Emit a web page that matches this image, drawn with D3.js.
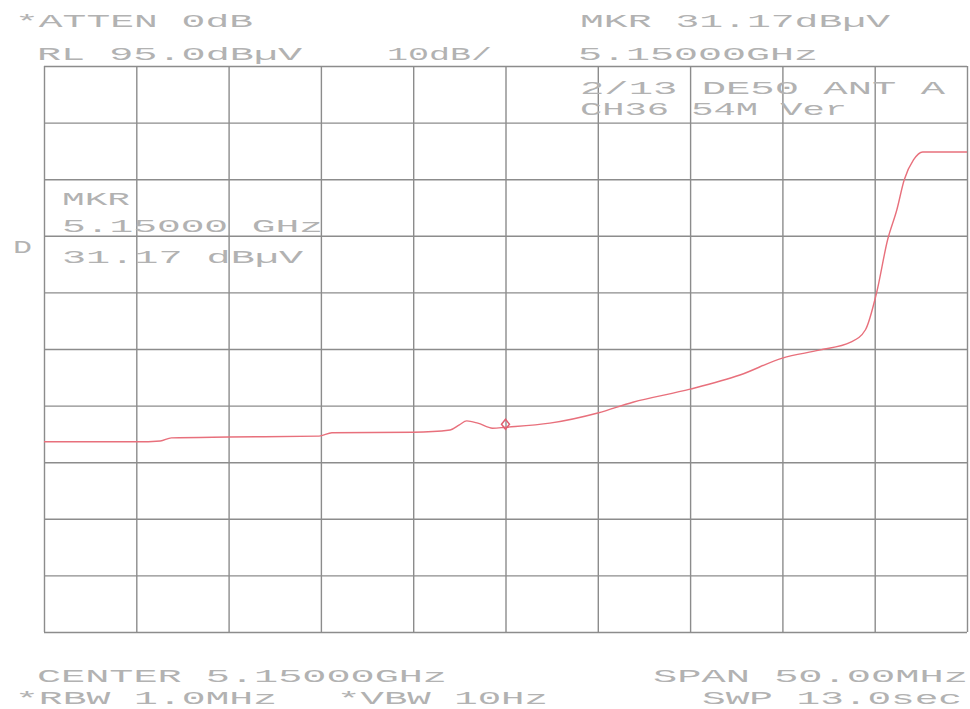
<!DOCTYPE html>
<html>
<head>
<meta charset="utf-8">
<script src="https://cdn.jsdelivr.net/npm/d3@7"></script>
<style>
  body { margin: 0; background: #fff; }
  .label { font-family: "Liberation Mono", "DejaVu Sans Mono", monospace; fill: #b2b2b2; }
</style>
</head>
<body>
<div id="chart"></div>
<script>
// analyzer settings
const refLevel = 95;      // dBµV
const dbPerDiv = 10;
const centerMHz = 5150;
const spanMHz = 50;
const markerFreq = 5150;
const markerLevel = 31.17;

// trace (MHz, dBµV)
const traceFreq = [5125.0, 5130.0, 5131.3, 5131.9, 5135.0, 5139.9, 5140.6, 5145.0, 5147.0, 5147.5,
  5147.9, 5148.5, 5149.3, 5150.0, 5152.4, 5155.0, 5156.9, 5160.0, 5162.7, 5165.0,
  5167.0, 5168.7, 5169.5, 5170.1, 5170.7, 5171.2, 5171.6, 5172.1, 5172.6, 5175.0];
const traceLevel = [28.6, 28.6, 28.75, 29.3, 29.45, 29.6, 30.2, 30.3, 30.7, 31.6,
  32.3, 31.9, 31.0, 31.17, 31.9, 33.7, 35.6, 37.9, 40.4, 43.4,
  44.8, 46.2, 48.4, 54.9, 64.3, 69.6, 74.9, 78.4, 79.8, 79.8];

// screen annotations: text, left x, baseline y, width
const labels = [
  ["*ATTEN 0dB", 15, 27, 238],
  ["RL 95.0dBµV", 37, 60, 265],
  ["10dB/", 387, 60, 105],
  ["MKR 31.17dBµV", 580, 27, 310],
  ["5.15000GHz", 578, 60, 240],
  ["2/13 DE50 ANT A", 580, 94, 365],
  ["CH36 54M Ver", 580, 115, 267],
  ["MKR", 62, 205, 68],
  ["5.15000 GHz", 62, 232, 261],
  ["31.17 dBµV", 62, 263, 241],
  ["D", 13, 253, 19],
  ["CENTER 5.15000GHz", 37, 682, 410],
  ["*RBW 1.0MHz", 15, 704, 262],
  ["*VBW 10Hz", 337, 704, 211],
  ["SPAN 50.00MHz", 653, 682, 315],
  ["SWP 13.0sec", 702, 704, 260]
];

const W = 970, H = 709;
const margin = {top: 66, left: 44, right: 3, bottom: 77};
const width = W - margin.left - margin.right;
const height = H - margin.top - margin.bottom;

const svg = d3.select('#chart').append('svg')
    .attr('width', W)
    .attr('height', H);

const x = d3.scaleLinear()
    .domain([centerMHz - spanMHz / 2, centerMHz + spanMHz / 2])
    .range([0, width]);
const y = d3.scaleLinear()
    .domain([refLevel - 10 * dbPerDiv, refLevel])
    .range([height, 0]);

const xTicks = d3.range(11).map(i => centerMHz - spanMHz / 2 + i * spanMHz / 10);
const yTicks = d3.range(11).map(i => refLevel - i * dbPerDiv);

const g = svg.append('g')
    .attr('transform', `translate(${margin.left},${margin.top})`);

// graticule
g.append('g')
    .attr('transform', `translate(0,${height})`)
    .call(d3.axisBottom(x).tickValues(xTicks).tickSize(-height).tickFormat(''))
    .call(a => a.select('.domain').remove())
    .selectAll('line').attr('stroke', '#8c8c8c').attr('stroke-width', 1.4);
g.append('g')
    .call(d3.axisLeft(y).tickValues(yTicks).tickSize(-width).tickFormat(''))
    .call(a => a.select('.domain').remove())
    .selectAll('line').attr('stroke', '#8c8c8c').attr('stroke-width', 1.4);

// trace
const line = d3.line()
    .x(i => x(traceFreq[i]))
    .y(i => y(traceLevel[i]))
    .curve(d3.curveMonotoneX);
g.append('path')
    .datum(d3.range(traceFreq.length))
    .attr('d', line)
    .attr('fill', 'none')
    .attr('stroke', '#e8707c')
    .attr('stroke-width', 1.4);

// marker
const mx = x(markerFreq), my = y(markerLevel) - 3;
g.append('path')
    .attr('d', `M${mx},${my - 5}L${mx + 4},${my}L${mx},${my + 5}L${mx - 4},${my}Z`)
    .attr('fill', 'none')
    .attr('stroke', '#e06070')
    .attr('stroke-width', 1.5);

// text
svg.selectAll('.label')
  .data(labels)
  .join('text')
    .attr('class', 'label')
    .attr('x', d => d[1])
    .attr('y', d => d[2])
    .attr('font-size', 19)
    .attr('textLength', d => d[3])
    .attr('lengthAdjust', 'spacingAndGlyphs')
    .text(d => d[0]);
</script>
</body>
</html>
